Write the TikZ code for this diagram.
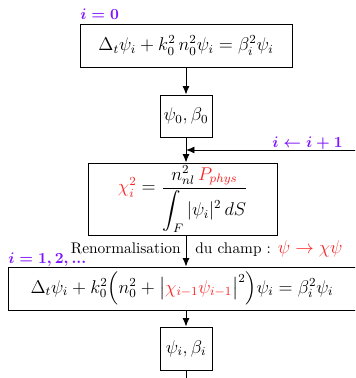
\documentclass[tikz,border=0pt]{standalone}
\usepackage{amsmath}
\usepackage{tikz}
\usetikzlibrary{calc,arrows.meta}
\definecolor{idxviolet}{RGB}{127,20,255}
\definecolor{physred}{RGB}{250,35,35}
\newcommand{\idx}[1]{{\boldmath\color{idxviolet}$#1$}}
\newcommand{\phys}[1]{{\color{physred}#1}}
\tikzset{
    stepbox/.style={draw, line width=0.6pt, inner sep=0pt, align=center, font=\large},
    flow/.style={-{Latex[length=5.5pt, width=4.5pt]}, line width=0.6pt}
}

\begin{document}
\begin{tikzpicture}[x=0.65pt, y=-0.65pt]
    \clip (0,0) rectangle (355,378);
    \node[stepbox, minimum width=212*0.65pt, minimum height=43*0.65pt] (N1) at (186,45.5)
        {$\Delta_t\psi_i + k_0^2\,n_0^2\psi_i = \beta_i^2\psi_i$};
    \node[stepbox, minimum width=52*0.65pt, minimum height=42*0.65pt] (N2) at (186,116)
        {$\psi_0,\beta_0$};
    \node[stepbox, minimum width=189*0.65pt, minimum height=72*0.65pt] (N3) at (183,199)
        {$\phys{\chi_i^2} = \dfrac{n_{nl}^2\,\phys{P_{phys}}}{\displaystyle\int_F |\psi_i|^2\,dS}$};
    \node[stepbox, minimum width=348*0.65pt, minimum height=43*0.65pt] (N4) at (182,288.5)
        {$\Delta_t\psi_i + k_0^2\Big(n_0^2 + \big|\phys{\chi_{i-1}\psi_{i-1}}\big|^2\Big)\psi_i = \beta_i^2\psi_i$};
    \node[stepbox, minimum width=52*0.65pt, minimum height=43*0.65pt] (N5) at (186,348.5)
        {$\psi_i,\beta_i$};
    % index labels
    \node[anchor=base west, inner sep=0pt] (L0) at (80,20) {\idx{i=0}};
    \node[anchor=base west, inner sep=0pt] (L1) at (272,147) {\idx{i\leftarrow i+1}};
    \node[anchor=base west, inner sep=0pt] (L2) at (8,263) {\idx{i=1,2,...}};
    % renormalisation text
    \node[anchor=base east, inner sep=0pt] (R0) at (181,253) {Renormalisation};
    \node[anchor=base west, inner sep=0pt] (R1) at (195,253) {du champ : {\large$\phys{\psi\rightarrow\chi\psi}$}};
    \coordinate (F0) at (360,150);
    \coordinate (F1) at (186,150);
    \coordinate (E0) at (186,385);
    \path[flow] (N1) edge (N2) (N2) edge (N3.north -| N2.south);
    \path[flow] (N3.south -| N2.south) edge (N4.north -| N2.south);
    \path[flow] (N4.south -| N5.north) edge (N5);
    \path[flow] (F0) edge (F1);
    \draw[line width=0.6pt] (N5) -- (E0);
\end{tikzpicture}
\end{document}
